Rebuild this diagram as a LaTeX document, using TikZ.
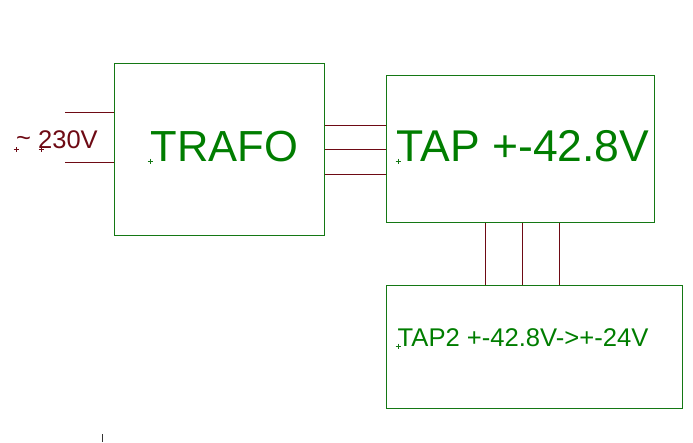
\documentclass[tikz,border=0pt]{standalone}
\usepackage{fontspec}
\setmainfont{Liberation Sans}
\definecolor{boxgreen}{RGB}{20,120,20}
\definecolor{txtgreen}{RGB}{0,125,0}
\definecolor{wire}{RGB}{110,10,20}
\begin{document}
\begin{tikzpicture}[x=1pt,y=-1pt,
  box/.style={draw=boxgreen,line width=1pt,rectangle,inner sep=0pt,anchor=north west},
  wireline/.style={draw=wire,line width=1pt},
  lbl/.style={anchor=base west,inner sep=0pt},
  origin/.style={line width=0.5pt}]
\useasboundingbox (0,0) rectangle (693,442);
% boxes
\node[box,minimum width=210pt,minimum height=172pt] (trafo) at (114,63) {};
\node[box,minimum width=268pt,minimum height=147pt] (tap) at (386,75) {};
\node[box,minimum width=296pt,minimum height=123pt] (tap2) at (386,285) {};
% labels
\node[lbl,text=txtgreen,font=\fontsize{43.5}{44}\selectfont] (trafolbl) at (150.5,161) {TRAFO};
\node[lbl,text=txtgreen,font=\fontsize{44.5}{45}\selectfont] (taplbl) at (396.5,161) {TAP +-42.8V};
\node[lbl,text=txtgreen,font=\fontsize{25.6}{26}\selectfont] (tap2lbl) at (397.5,346) {TAP2 +-42.8V->+-24V};
\node[lbl,text=wire,font=\fontsize{25.5}{26}\selectfont] (mains) at (16,148) {\raisebox{2pt}{\textasciitilde}\ 230V};
% origin crosses
\draw[origin,boxgreen] (147.5,161) -- (152.5,161) (150,158.5) -- (150,163.5);
\draw[origin,boxgreen] (395.5,161) -- (400.5,161) (398,158.5) -- (398,163.5);
\draw[origin,boxgreen] (395.5,346) -- (400.5,346) (398,343.5) -- (398,348.5);
\draw[origin,wire] (13.5,149.5) -- (18.5,149.5) (16,147) -- (16,152);
\draw[origin,wire] (38.5,149.5) -- (43.5,149.5) (41,147) -- (41,152);
% mains input wires
\coordinate (in1) at (65,112);
\coordinate (in2) at (65,162);
\draw[wireline] (in1) -- (trafo.west |- in1);
\draw[wireline] (in2) -- (trafo.west |- in2);
% trafo to tap
\foreach \yy in {125,149.5,174}{
  \draw[wireline] (trafo.east |- 0,\yy) -- (tap.west |- 0,\yy);
}
% tap to tap2
\foreach \xx in {485.5,522.5,559.5}{
  \draw[wireline] (tap.south -| \xx,0) -- (tap2.north -| \xx,0);
}
% small tick at bottom
\coordinate (tick) at (102,434);
\draw[line width=0.8pt,black!80] (tick) -- ++(0,8);
\end{tikzpicture}
\end{document}
